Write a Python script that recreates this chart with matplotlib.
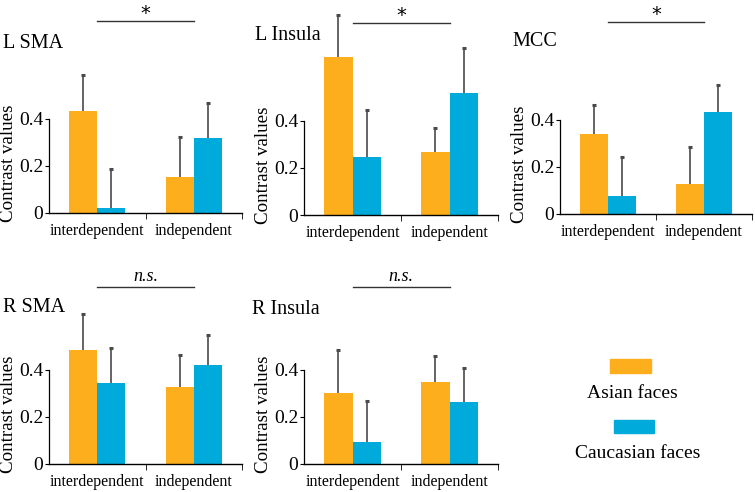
import numpy as np
import matplotlib
matplotlib.use('Agg')
import matplotlib.pyplot as plt
from matplotlib.patches import Rectangle

plt.rcParams['font.family'] = 'Liberation Serif'

# data
regions = ['L SMA', 'L Insula', 'MCC', 'R SMA', 'R Insula']
groups = ['interdependent', 'independent']
signif = ['*', '*', '*', 'n.s.', 'n.s.']

asian = [[0.434, 0.153], [0.668, 0.268], [0.337, 0.128], [0.484, 0.328], [0.299, 0.349]]
asian_err = [[0.149, 0.170], [0.179, 0.102], [0.126, 0.154], [0.152, 0.135], [0.185, 0.110]]
cauc = [[0.020, 0.319], [0.247, 0.519], [0.077, 0.434], [0.345, 0.421], [0.093, 0.261]]
cauc_err = [[0.167, 0.149], [0.200, 0.187], [0.163, 0.113], [0.148, 0.126], [0.176, 0.147]]

c_asian = '#FCAE1C'
c_cauc = '#00AADB'

W, H = 755, 492
fig = plt.figure(figsize=(W / 100, H / 100), dpi=100)

# axes boxes in pixels: left, right, y of zero
boxes = [(49, 242, 213), (304, 498, 215), (560, 752, 214), (49, 242, 464), (304, 498, 464)]
title_pos = [(3, 43), (255, 36), (512, 42), (3, 308), (252, 309)]
ppu = 236.0
ytop = 0.9
bw = 0.29


def upper_err(ax, x, vals, errs, col):
    eb = ax.errorbar(x, vals, yerr=[[0] * len(vals), errs], fmt='none',
                     ecolor=col, elinewidth=1.2, capsize=1.3, capthick=2.2, zorder=1)
    # drop the lower caps (they sit on the bar tops)
    for cl in eb[1]:
        if np.allclose(cl.get_ydata(), vals):
            cl.set_visible(False)


for i, (l, r, y0) in enumerate(boxes):
    h = ytop * ppu
    ax = fig.add_axes([l / W, 1 - y0 / H, (r - l) / W, h / H])
    x = np.arange(2)
    ax.bar(x - bw / 2, asian[i], bw, color=c_asian, zorder=2)
    ax.bar(x + bw / 2, cauc[i], bw, color=c_cauc, zorder=2)
    upper_err(ax, x - bw / 2, asian[i], asian_err[i], '#4a4a4a')
    upper_err(ax, x + bw / 2, cauc[i], cauc_err[i], '#4a4a4a')
    ax.set_xlim(-0.5, 1.5)
    ax.set_ylim(0, ytop)
    for s in ['top', 'right']:
        ax.spines[s].set_visible(False)
    ax.spines['left'].set_bounds(0, 0.4)
    ax.spines['left'].set_linewidth(0.9)
    ax.spines['bottom'].set_linewidth(1.0)
    ax.set_yticks([0, 0.2, 0.4])
    ax.set_yticklabels(['0', '0.2', '0.4'])
    ax.tick_params(axis='y', labelsize=14, length=3, pad=1)
    ax.set_xticks([0, 1])
    ax.set_xticklabels(groups)
    ax.set_xticks([0.5, 1.5], minor=True)
    ax.tick_params(axis='x', which='major', length=0, labelsize=11.5, pad=7)
    ax.tick_params(axis='x', which='minor', length=4)
    ax.set_ylabel('Contrast values', fontsize=13.7)
    ax.yaxis.set_label_coords(-32 / (r - l), 0.235)

    # significance bar
    ys = 0.813 if i < 3 else 0.749
    ax.plot([0, 1], [ys, ys], color='#333333', lw=1, clip_on=False)
    if signif[i] == '*':
        ax.text(0.5, ys + 0.01, '*', ha='center', va='baseline', fontsize=14,
                family='DejaVu Sans', clip_on=False)
    else:
        ax.text(0.5, ys + 0.025, 'n.s.', ha='center', va='baseline', fontsize=13,
                style='italic', clip_on=False)

    tx, ty = title_pos[i]
    fig.text(tx / W, 1 - ty / H, regions[i], fontsize=14.5, ha='left', va='center')

# legend
fig.add_artist(Rectangle((610 / W, 1 - 373 / H), 41 / W, 14 / H, color=c_asian, transform=fig.transFigure))
fig.text(632 / W, 1 - 393 / H, 'Asian faces', fontsize=14, ha='center', va='center')
fig.add_artist(Rectangle((614 / W, 1 - 433 / H), 40 / W, 13 / H, color=c_cauc, transform=fig.transFigure))
fig.text(638 / W, 1 - 453 / H, 'Caucasian faces', fontsize=14, ha='center', va='center')

fig.savefig('out.png', dpi=100)
